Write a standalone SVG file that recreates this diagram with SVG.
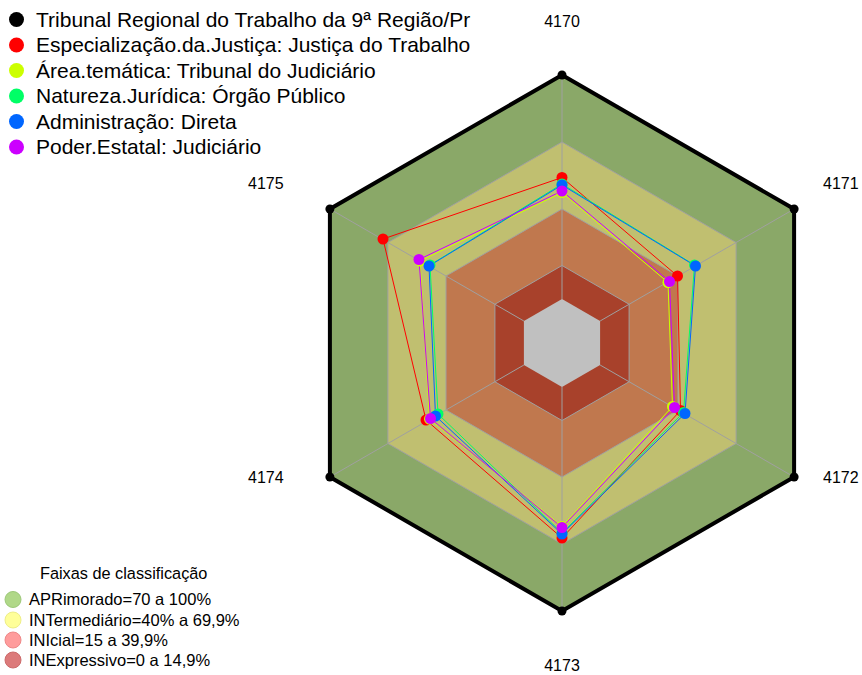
<svg xmlns="http://www.w3.org/2000/svg" width="862" height="675" viewBox="0 0 862 675">
<style>
text{font-family:"Liberation Sans",Arial,sans-serif;fill:#000}
.leg{font-size:21px}
.ax{font-size:16px}
.band{stroke:#a0a0a0;stroke-width:1}
.spoke{stroke:#a0a0a0;stroke-width:1}
.ser{fill:none;stroke-width:1}
.fl{font-size:16.5px}
</style>
<rect width="862" height="675" fill="#ffffff"/>
<g id="bands">
<polygon class="band" fill="#8aa868" points="562,75 794.1,209 794.1,477 562,611 329.9,477 329.9,209"/>
<polygon class="band" fill="#c0bf70" points="562,142 736.1,242.5 736.1,443.5 562,544 387.9,443.5 387.9,242.5"/>
<polygon class="band" fill="#c0784e" points="562,209 678,276 678,410 562,477 446,410 446,276"/>
<polygon class="band" fill="#a8412b" points="562,265.5 629.1,304.25 629.1,381.75 562,420.5 494.9,381.75 494.9,304.25"/>
<polygon fill="#c0c0c0" points="562,299 600.1,321 600.1,365 562,387 523.9,365 523.9,321"/>
</g>
<g id="spokes">
<line class="spoke" x1="562" y1="299" x2="562" y2="75"/>
<line class="spoke" x1="600.1" y1="321" x2="794.1" y2="209"/>
<line class="spoke" x1="600.1" y1="365" x2="794.1" y2="477"/>
<line class="spoke" x1="562" y1="387" x2="562" y2="611"/>
<line class="spoke" x1="523.9" y1="365" x2="329.9" y2="477"/>
<line class="spoke" x1="523.9" y1="321" x2="329.9" y2="209"/>
</g>
<g id="axis-labels">
<text class="ax" x="562" y="27" text-anchor="middle">4170</text>
<text class="ax" x="823" y="189">4171</text>
<text class="ax" x="823" y="483">4172</text>
<text class="ax" x="562" y="671" text-anchor="middle">4173</text>
<text class="ax" x="248" y="483">4174</text>
<text class="ax" x="248" y="189">4175</text>
</g>
<g id="connectors">
<polygon class="ser" stroke="#000000" style="stroke-width:4" points="562,75 794.1,209 794.1,477 562,611 329.9,477 329.9,209"/>
<polygon class="ser" stroke="#ff0000" points="562,177.5 677.5,276 680.5,410.5 562,538 426,420 383,239"/>
<polygon class="ser" stroke="#ccff00" points="562,192.5 668,282.5 672.5,406.5 562,526.5 429.5,419 420,261"/>
<polygon class="ser" stroke="#00ff66" points="562,184 694.5,265 683.5,412.5 562,533 438,414 430,265"/>
<polygon class="ser" stroke="#0066ff" points="562,185 695.5,266 685,413.5 562,534 435.5,416 429,266"/>
<polygon class="ser" stroke="#cc00ff" points="562,191 669.5,281.5 674.5,407.5 562,527.5 430.5,418.5 419,259.5"/>
</g>
<g id="series-tribunal" fill="#000000">
<circle cx="562" cy="75" r="4.5"/><circle cx="794.1" cy="209" r="4.5"/><circle cx="794.1" cy="477" r="4.5"/>
<circle cx="562" cy="611" r="4.5"/><circle cx="329.9" cy="477" r="4.5"/><circle cx="329.9" cy="209" r="4.5"/>
</g>
<g id="series-especializacao" fill="#ff0000">
<circle cx="562" cy="177.5" r="5.5"/><circle cx="677.5" cy="276" r="5.5"/><circle cx="680.5" cy="410.5" r="5.5"/>
<circle cx="562" cy="538" r="5.5"/><circle cx="426" cy="420" r="5.5"/><circle cx="383" cy="239" r="5.5"/>
</g>
<g id="series-area" fill="#ccff00">
<circle cx="562" cy="192.5" r="5.5"/><circle cx="668" cy="282.5" r="5.5"/><circle cx="672.5" cy="406.5" r="5.5"/>
<circle cx="562" cy="526.5" r="5.5"/><circle cx="429.5" cy="419" r="5.5"/><circle cx="420" cy="261" r="5.5"/>
</g>
<g id="series-natureza" fill="#00ff66">
<circle cx="562" cy="184" r="5.5"/><circle cx="694.5" cy="265" r="5.5"/><circle cx="683.5" cy="412.5" r="5.5"/>
<circle cx="562" cy="533" r="5.5"/><circle cx="438" cy="414" r="5.5"/><circle cx="430" cy="265" r="5.5"/>
</g>
<g id="series-administracao" fill="#0066ff">
<circle cx="562" cy="185" r="5.5"/><circle cx="695.5" cy="266" r="5.5"/><circle cx="685" cy="413.5" r="5.5"/>
<circle cx="562" cy="534" r="5.5"/><circle cx="435.5" cy="416" r="5.5"/><circle cx="429" cy="266" r="5.5"/>
</g>
<g id="series-poder" fill="#cc00ff">
<circle cx="562" cy="191" r="5.5"/><circle cx="669.5" cy="281.5" r="5.5"/><circle cx="674.5" cy="407.5" r="5.5"/>
<circle cx="562" cy="527.5" r="5.5"/><circle cx="430.5" cy="418.5" r="5.5"/><circle cx="419" cy="259.5" r="5.5"/>
</g>
<g id="legend-series">
<circle cx="16.5" cy="19.5" r="7.5" fill="#000000"/>
<text class="leg" x="36" y="26.5">Tribunal Regional do Trabalho da 9ª Região/Pr</text>
<circle cx="16.5" cy="45" r="7.5" fill="#ff0000"/>
<text class="leg" x="36" y="52">Especialização.da.Justiça: Justiça do Trabalho</text>
<circle cx="16.5" cy="70.5" r="7.5" fill="#ccff00"/>
<text class="leg" x="36" y="77.5">Área.temática: Tribunal do Judiciário</text>
<circle cx="16.5" cy="96" r="7.5" fill="#00ff66"/>
<text class="leg" x="36" y="103">Natureza.Jurídica: Órgão Público</text>
<circle cx="16.5" cy="121.5" r="7.5" fill="#0066ff"/>
<text class="leg" x="36" y="128.5">Administração: Direta</text>
<circle cx="16.5" cy="147" r="7.5" fill="#cc00ff"/>
<text class="leg" x="36" y="154">Poder.Estatal: Judiciário</text>
</g>
<g id="legend-faixas">
<text x="40" y="579" style="font-size:16.3px">Faixas de classificação</text>
<circle cx="13" cy="599.5" r="8" fill="#b0d888" stroke="#9cc878" stroke-width="1"/>
<text class="fl" x="29" y="605">APRimorado=70 a 100%</text>
<circle cx="13" cy="620" r="8" fill="#ffff99" stroke="#eeee88" stroke-width="1"/>
<text class="fl" x="29" y="625.5">INTermediário=40% a 69,9%</text>
<circle cx="13" cy="640" r="8" fill="#ff9c9c" stroke="#ee8888" stroke-width="1"/>
<text class="fl" x="29" y="645.5">INIcial=15 a 39,9%</text>
<circle cx="13" cy="660" r="8" fill="#dc7a7a" stroke="#cc6a6a" stroke-width="1"/>
<text class="fl" x="29" y="665.5">INExpressivo=0 a 14,9%</text>
</g>
</svg>
